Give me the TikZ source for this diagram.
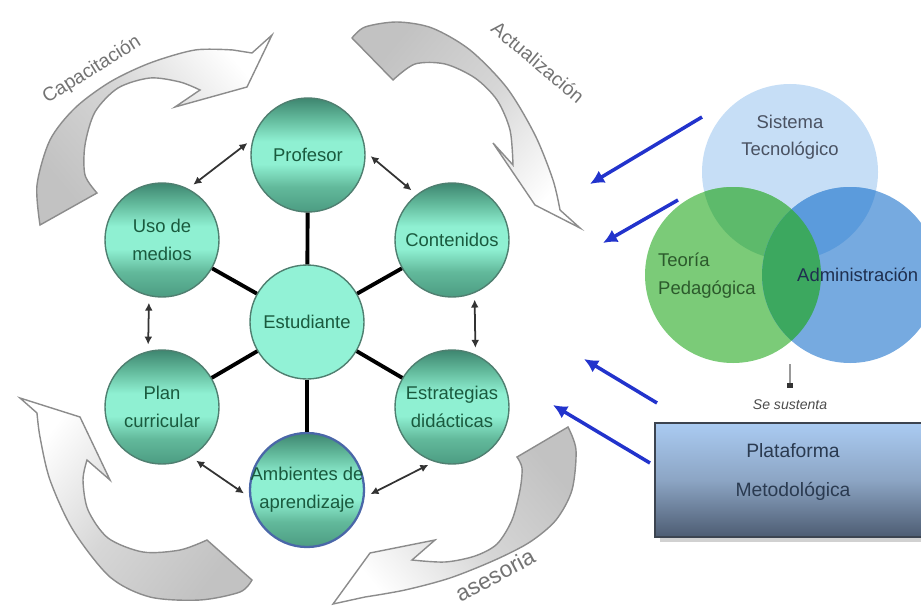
\documentclass[tikz,border=0pt]{standalone}
\usepackage{fontspec}
\setmainfont{Liberation Sans}
\usepackage{xcolor}
\usetikzlibrary{arrows.meta,shadows}

\definecolor{tealtop}{HTML}{3E8670}
\definecolor{tealmid}{HTML}{62B99B}
\definecolor{teallight}{HTML}{8FF0D2}
\definecolor{tealbot}{HTML}{4C9C82}
\definecolor{tealline}{HTML}{4F7F70}
\definecolor{balltxt}{HTML}{1A5A3E}
\definecolor{estfill}{HTML}{92F2D6}
\definecolor{ambline}{HTML}{4A67A8}
\definecolor{arrowblue}{HTML}{2233CC}
\definecolor{sisblue}{HTML}{C6DEF6}
\definecolor{teogreen}{HTML}{7BCB78}
\definecolor{admblue}{HTML}{76AAE0}
\definecolor{sisteo}{HTML}{5DBA6B}
\definecolor{sisadm}{HTML}{5B9BDC}
\definecolor{teoadm}{HTML}{3CA85F}
\definecolor{sistxt}{HTML}{4A5262}
\definecolor{teotxt}{HTML}{2C5A2C}
\definecolor{admtxt}{HTML}{1F2F4F}
\definecolor{platop}{HTML}{AACBF2}
\definecolor{platmid}{HTML}{8CA5C4}
\definecolor{platbot}{HTML}{4D5C72}
\definecolor{platline}{HTML}{3C4450}
\definecolor{plattxt}{HTML}{2A3A50}

\pgfdeclareverticalshading{tealball}{100bp}{color(0bp)=(tealbot); color(25bp)=(tealbot); color(36bp)=(tealmid); color(46bp)=(teallight); color(56bp)=(teallight); color(66bp)=(tealmid); color(75bp)=(tealtop); color(100bp)=(tealtop)}

\begin{document}
\begin{tikzpicture}[x=0.2mm,y=0.2mm,
    ballbase/.style={circle,minimum size=22.8mm,inner sep=0pt,draw=tealline,line width=0.8pt},
    ball/.style={ballbase,shade,shading=tealball},
    balltext/.style={align=center,text=balltxt,font=\fontsize{10.5}{16}\selectfont},
    spoke/.style={line width=2.2pt},
    duallink/.style={{Latex[length=4.5pt,width=4.5pt]}-{Latex[length=4.5pt,width=4.5pt]},line width=1pt,draw=black!80,shorten <=1.3mm,shorten >=1.3mm},
    turnarrow/.style={draw=black!45,line width=0.8pt},
    turntext/.style={text=black!55,font=\fontsize{11}{13}\selectfont},
    feedarrow/.style={-{Latex[length=8pt,width=8pt]},line width=2pt,draw=arrowblue},
    plattext/.style={align=center,text=plattxt,font=\fontsize{11}{22.5}\selectfont}]
    \useasboundingbox (0,0) rectangle (921,605);
    \clip (0,0) rectangle (921,605);

    \draw[turnarrow,top color=white,bottom color=black!24,middle color=black!16,shading angle=-50]
        (40,380) -- plot[smooth] coordinates {(40,380) (37,420) (50,465) (75,497) (110,523) (150,542) (195,555) (233,555)}
        -- (252,552) -- (272,570) -- (247,518) -- (175,498) -- (200,515)
        -- plot[smooth] coordinates {(200,515) (180,523) (150,527) (118,517) (95,493) (85,460) (85,430) (97,412)} -- cycle;
    \draw[turnarrow,top color=black!24,bottom color=white,middle color=black!16,shading angle=50]
        (352,567) -- plot[smooth] coordinates {(352,567) (365,578) (397,583) (432,577) (470,555) (507,517) (535,470) (553,425) (560,395)}
        -- (580,377) -- (535,400) -- (493,462) -- (513,440)
        -- plot[smooth] coordinates {(513,440) (510,475) (497,505) (475,527) (445,541) (415,541) (393,525)} -- cycle;
    \draw[turnarrow,top color=black!24,bottom color=white,middle color=black!16,shading angle=-50]
        (568,178) -- plot[smooth] coordinates {(568,178) (576,155) (572,115) (556,85) (530,63) (495,45) (450,27) (405,15) (365,8)}
        -- (333,1) -- (370,52) -- (435,65) -- (412,45)
        -- plot[smooth] coordinates {(412,45) (445,43) (475,49) (497,61) (512,85) (520,115) (522,137) (517,148)} -- cycle;
    \draw[turnarrow,top color=black!24,bottom color=white,middle color=black!16,shading angle=-128]
        (252,25) -- plot[smooth] coordinates {(252,25) (240,13) (200,5) (150,8) (110,28) (73,75) (50,125) (40,168) (37,192)}
        -- (20,207) -- (80,188) -- (110,125) -- (87,145)
        -- plot[smooth] coordinates {(87,145) (83,125) (88,95) (108,67) (143,53) (180,55) (207,65)} -- cycle;
    \node[turntext,rotate=32] (capa) at (92,535) {Capacitación};
    \node[turntext,rotate=-40] (actu) at (538,543) {Actualización};
    \node[turntext,rotate=28,font=\fontsize{13}{15}\selectfont] (ases) at (495,30) {asesoria};

    \node[ball,label={[balltext]center:Profesor}] (prof) at (308,450) {};
    \node[ball,label={[balltext]center:Uso de\\medios}] (uso) at (162,365) {};
    \node[ball,label={[balltext]center:Contenidos}] (cont) at (452,365) {};
    \node[ballbase,fill=estfill,label={[balltext]center:Estudiante}] (est) at (307,283) {};
    \node[ball,label={[balltext]center:Plan\\curricular}] (plan) at (162,198) {};
    \node[ball,label={[balltext]center:Estrategias\\didácticas}] (estr) at (452,198) {};
    \node[ball,draw=ambline,line width=1.3pt,label={[balltext]center:Ambientes de\\aprendizaje}] (amb) at (307,115) {};

    \draw[spoke] (est) -- (prof);
    \draw[spoke] (est) -- (uso);
    \draw[spoke] (est) -- (cont);
    \draw[spoke] (est) -- (plan);
    \draw[spoke] (est) -- (estr);
    \draw[spoke] (est) -- (amb);
    \draw[duallink] (prof.164) -- (uso.63);
    \draw[duallink] (prof.3) -- (cont.128);
    \draw[duallink] (uso.257) -- (plan.104);
    \draw[duallink] (cont.293) -- (estr.66);
    \draw[duallink] (plan.300) -- (amb.187);
    \draw[duallink] (estr.252) -- (amb.353);

    \fill[sisblue] (790,433) circle (17.6mm);
    \fill[teogreen] (733,330) circle (17.6mm);
    \fill[admblue] (850,330) circle (17.6mm);
    \begin{scope}
        \clip (790,433) circle (17.6mm);
        \fill[sisteo] (733,330) circle (17.6mm);
        \fill[sisadm] (850,330) circle (17.6mm);
    \end{scope}
    \begin{scope}
        \clip (733,330) circle (17.6mm);
        \fill[teoadm] (850,330) circle (17.6mm);
    \end{scope}
    \node[align=center,text=sistxt,font=\fontsize{10.5}{15.5}\selectfont] (sis) at (790,468) {Sistema\\Tecnológico};
    \node[anchor=west,align=left,text=teotxt,font=\fontsize{10.5}{16}\selectfont] (teo) at (652,329) {Teoría\\Pedagógica};
    \node[anchor=west,text=admtxt,font=\fontsize{10.5}{16}\selectfont] (adm) at (791,330) {Administración};

    \coordinate (vennbase) at (790,241);
    \node[text=black!70,font=\itshape\fontsize{8}{9}\selectfont] (sust) at (790,200) {Se sustenta};
    \draw[black!40,line width=1.3pt,-{Square[length=3pt,width=3.5pt,black!80]},shorten >=1.2mm] (vennbase) -- (sust.north);

    \node[rectangle,draw=platline,line width=1pt,minimum width=55.2mm,minimum height=22.8mm,
        top color=platop,bottom color=platbot,middle color=platmid,
        drop shadow={shadow xshift=1mm,shadow yshift=-1mm,fill=black!30,opacity=0.6},
        label={[plattext,yshift=1.6mm]center:Plataforma\\Metodológica}] (plat) at (793,125) {};

    \coordinate (f1s) at (702,488);
    \coordinate (f1e) at (590,421);
    \coordinate (f2s) at (678,405);
    \coordinate (f2e) at (603,362);
    \coordinate (f3s) at (657,202);
    \coordinate (f3e) at (584,246);
    \coordinate (f4s) at (650,142);
    \coordinate (f4e) at (553,200);
    \draw[feedarrow] (f1s) -- (f1e);
    \draw[feedarrow] (f2s) -- (f2e);
    \draw[feedarrow] (f3s) -- (f3e);
    \draw[feedarrow] (f4s) -- (f4e);
\end{tikzpicture}
\end{document}
